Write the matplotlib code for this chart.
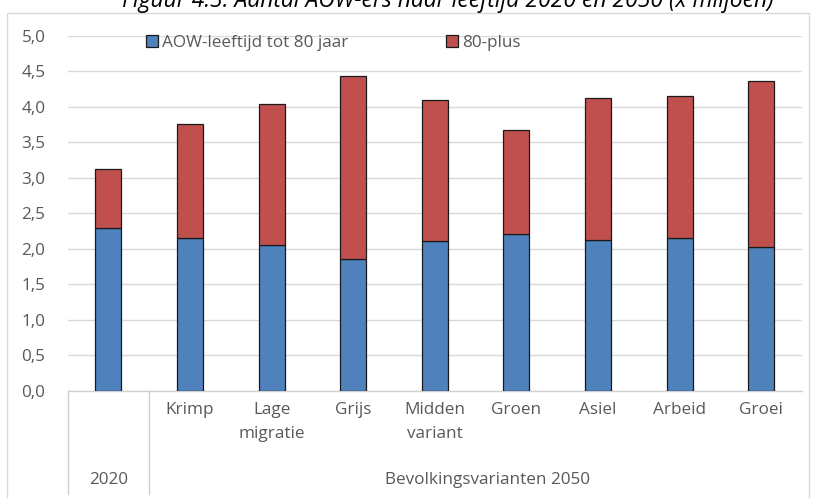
import matplotlib.pyplot as plt
from matplotlib.patches import Rectangle
from matplotlib.lines import Line2D
import matplotlib.transforms as mtransforms

# data (x miljoen)
categories = ['2020', 'Krimp', 'Lage\nmigratie', 'Grijs', 'Midden\nvariant',
              'Groen', 'Asiel', 'Arbeid', 'Groei']
aow_tot_80 = [2.29, 2.15, 2.05, 1.86, 2.11, 2.21, 2.13, 2.15, 2.02]
totaal = [3.12, 3.76, 4.04, 4.44, 4.09, 3.67, 4.13, 4.15, 4.37]
tachtig_plus = [t - a for t, a in zip(totaal, aow_tot_80)]
group_labels = ['2020', 'Bevolkingsvarianten 2050']

blue = '#4F81BD'
red = '#C0504D'
txt = '#595959'
fs = 12.3

plt.rcParams['font.family'] = ['Open Sans', 'DejaVu Sans']

fig = plt.figure(figsize=(8.15, 4.98), dpi=100)
W, H = 815, 498
ax = fig.add_axes([67.6 / W, 107.2 / H, (802 - 67.6) / W, 355 / H])

x = list(range(len(categories)))
ax.bar(x, aow_tot_80, width=0.32, color=blue, edgecolor='#1a1a1a', linewidth=0.9,
       label='AOW-leeftijd tot 80 jaar', zorder=3)
ax.bar(x, tachtig_plus, width=0.32, bottom=aow_tot_80, color=red, edgecolor='#1a1a1a',
       linewidth=0.9, label='80-plus', zorder=3)

ax.set_xlim(-0.5, len(categories) - 0.5)
ax.set_ylim(0, 5.0)
yt = [i * 0.5 for i in range(11)]
ax.set_yticks(yt)
ax.set_yticklabels([f'{v:.1f}'.replace('.', ',') for v in yt], color=txt, fontsize=fs)
ax.tick_params(axis='y', length=0, pad=16)
ax.grid(axis='y', color='#d9d9d9', linewidth=1, zorder=0)
ax.set_xticks([])
for s in ['left', 'right', 'top']:
    ax.spines[s].set_visible(False)
ax.spines['bottom'].set_color('#d0d0d0')
ax.spines['bottom'].set_linewidth(1)

# multi-level category axis
trans = mtransforms.blended_transform_factory(ax.transData, ax.transAxes)
low = -(494 - 390.8) / 355
for xv in [-0.5, 0.5]:
    ax.add_line(Line2D([xv, xv], [0, low], transform=trans, color='#d0d0d0',
                       linewidth=1, clip_on=False))
for i, c in enumerate(categories[1:], start=1):
    ax.text(i, -(402 - 390.8) / 355, c, transform=trans, ha='center', va='top',
            color=txt, fontsize=fs, linespacing=1.65)
ax.text(0, -(480 - 390.8) / 355, group_labels[0], transform=trans, ha='center',
        va='center', color=txt, fontsize=fs)
ax.text(4.65, -(480 - 390.8) / 355, group_labels[1], transform=trans, ha='center',
        va='center', color=txt, fontsize=fs)

# legend
leg = ax.legend(loc='upper left', bbox_to_anchor=(63 / 734.4, 1.045), ncol=2,
                frameon=False, fontsize=fs, handlelength=0.7, handleheight=0.7,
                handletextpad=0.25, columnspacing=5.7, labelcolor=txt)

# chart frame and clipped title
fig.patches.append(Rectangle((7 / W, -0.05), (809 - 7) / W, (H - 13) / H + 0.05,
                             transform=fig.transFigure, fill=False,
                             edgecolor='#d9d9d9', linewidth=1))
fig.text(448 / W, 1 - 1 / H, 'Figuur 4.3. Aantal AOW-ers naar leeftijd 2020 en 2050 (x miljoen)',
         ha='center', va='center', style='italic', fontsize=16.5, color='black')

fig.savefig('out.png', dpi=100)
